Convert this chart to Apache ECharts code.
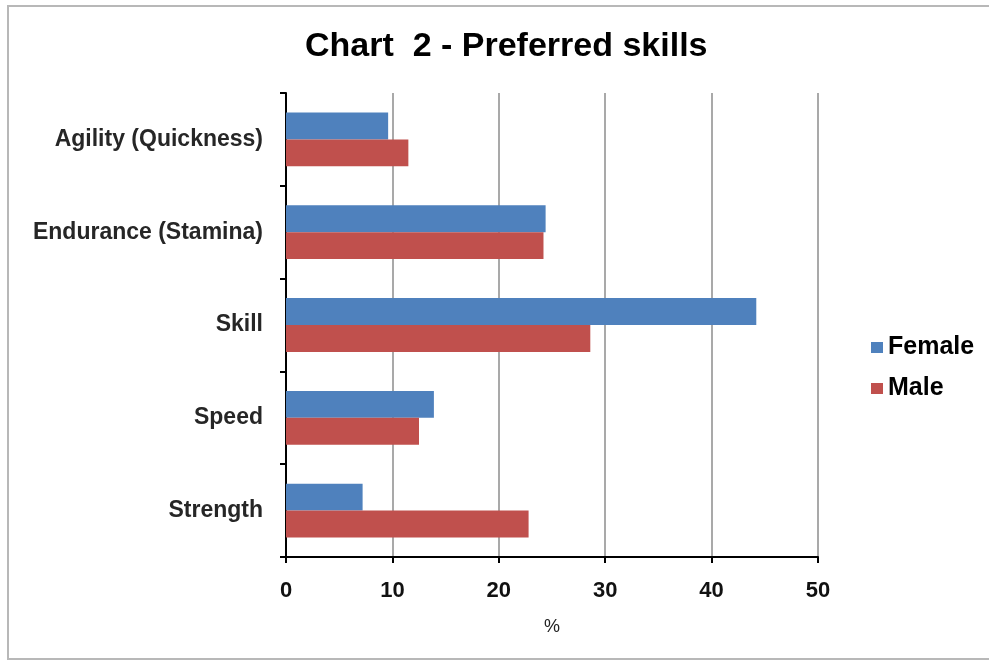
<!DOCTYPE html>
<html>
<head>
<meta charset="utf-8">
<script src="https://cdn.jsdelivr.net/npm/echarts@6/dist/echarts.min.js"></script>
<style>html,body{margin:0;padding:0;background:#fff;}#c{width:989px;height:662px;}</style>
</head>
<body>
<div id="c"></div>
<script>
const categories = ['Agility (Quickness)', 'Endurance (Stamina)', 'Skill', 'Speed', 'Strength'];
const female = [9.6, 24.4, 44.2, 13.9, 7.2];
const male = [11.5, 24.2, 28.6, 12.5, 22.8];
const xTicks = [0, 10, 20, 30, 40, 50];

const chart = echarts.init(document.getElementById('c'));
chart.setOption({
  backgroundColor: '#fff',
  animation: false,
  title: {
    text: 'Chart  2 - Preferred skills',
    left: 300,
    top: 25,
    textStyle: { fontFamily: 'Liberation Sans', fontWeight: 'bold', fontSize: 34, color: '#000' }
  },
  graphic: [{
    type: 'rect',
    shape: { x: 8, y: 6, width: 1000, height: 653 },
    style: { fill: 'none', stroke: '#b8b8b8', lineWidth: 2 },
    silent: true
  }],
  legend: {
    orient: 'vertical',
    left: 866,
    top: 330,
    itemWidth: 12,
    itemHeight: 11,
    itemGap: 16,
    icon: 'rect',
    textStyle: { fontFamily: 'Liberation Sans', fontWeight: 'bold', fontSize: 25, color: '#000', padding: [0, 0, 0, 0] },
    data: ['Female', 'Male']
  },
  grid: { left: 286, right: 171, top: 93, bottom: 105, containLabel: false },
  xAxis: {
    type: 'value',
    min: 0, max: 50, interval: 10,
    name: '%',
    nameLocation: 'middle',
    nameGap: 61,
    nameTextStyle: { fontFamily: 'Liberation Sans', fontSize: 18, color: '#222' },
    axisLine: { show: true, lineStyle: { color: '#000', width: 2 } },
    axisTick: { show: true, length: 6, lineStyle: { color: '#000', width: 2 } },
    axisLabel: {
      fontFamily: 'Liberation Sans', fontWeight: 'bold', fontSize: 22, color: '#111', margin: 23,
      customValues: xTicks
    },
    splitLine: { show: true, lineStyle: { color: '#8c8c8c', width: 1.5 } }
  },
  yAxis: {
    type: 'category',
    inverse: true,
    data: categories,
    axisLine: { show: true, lineStyle: { color: '#000', width: 2 } },
    axisTick: { show: true, length: 6, lineStyle: { color: '#000', width: 2 } },
    axisLabel: { fontFamily: 'Liberation Sans', fontWeight: 'bold', fontSize: 23, color: '#262626', margin: 23 },
    splitLine: { show: false }
  },
  series: [
    { name: 'Female', type: 'bar', data: female, barGap: '0%', barCategoryGap: '42%', itemStyle: { color: '#4F81BD' } },
    { name: 'Male', type: 'bar', data: male, barGap: '0%', barCategoryGap: '42%', itemStyle: { color: '#C0504D' } }
  ]
});
</script>
</body>
</html>
